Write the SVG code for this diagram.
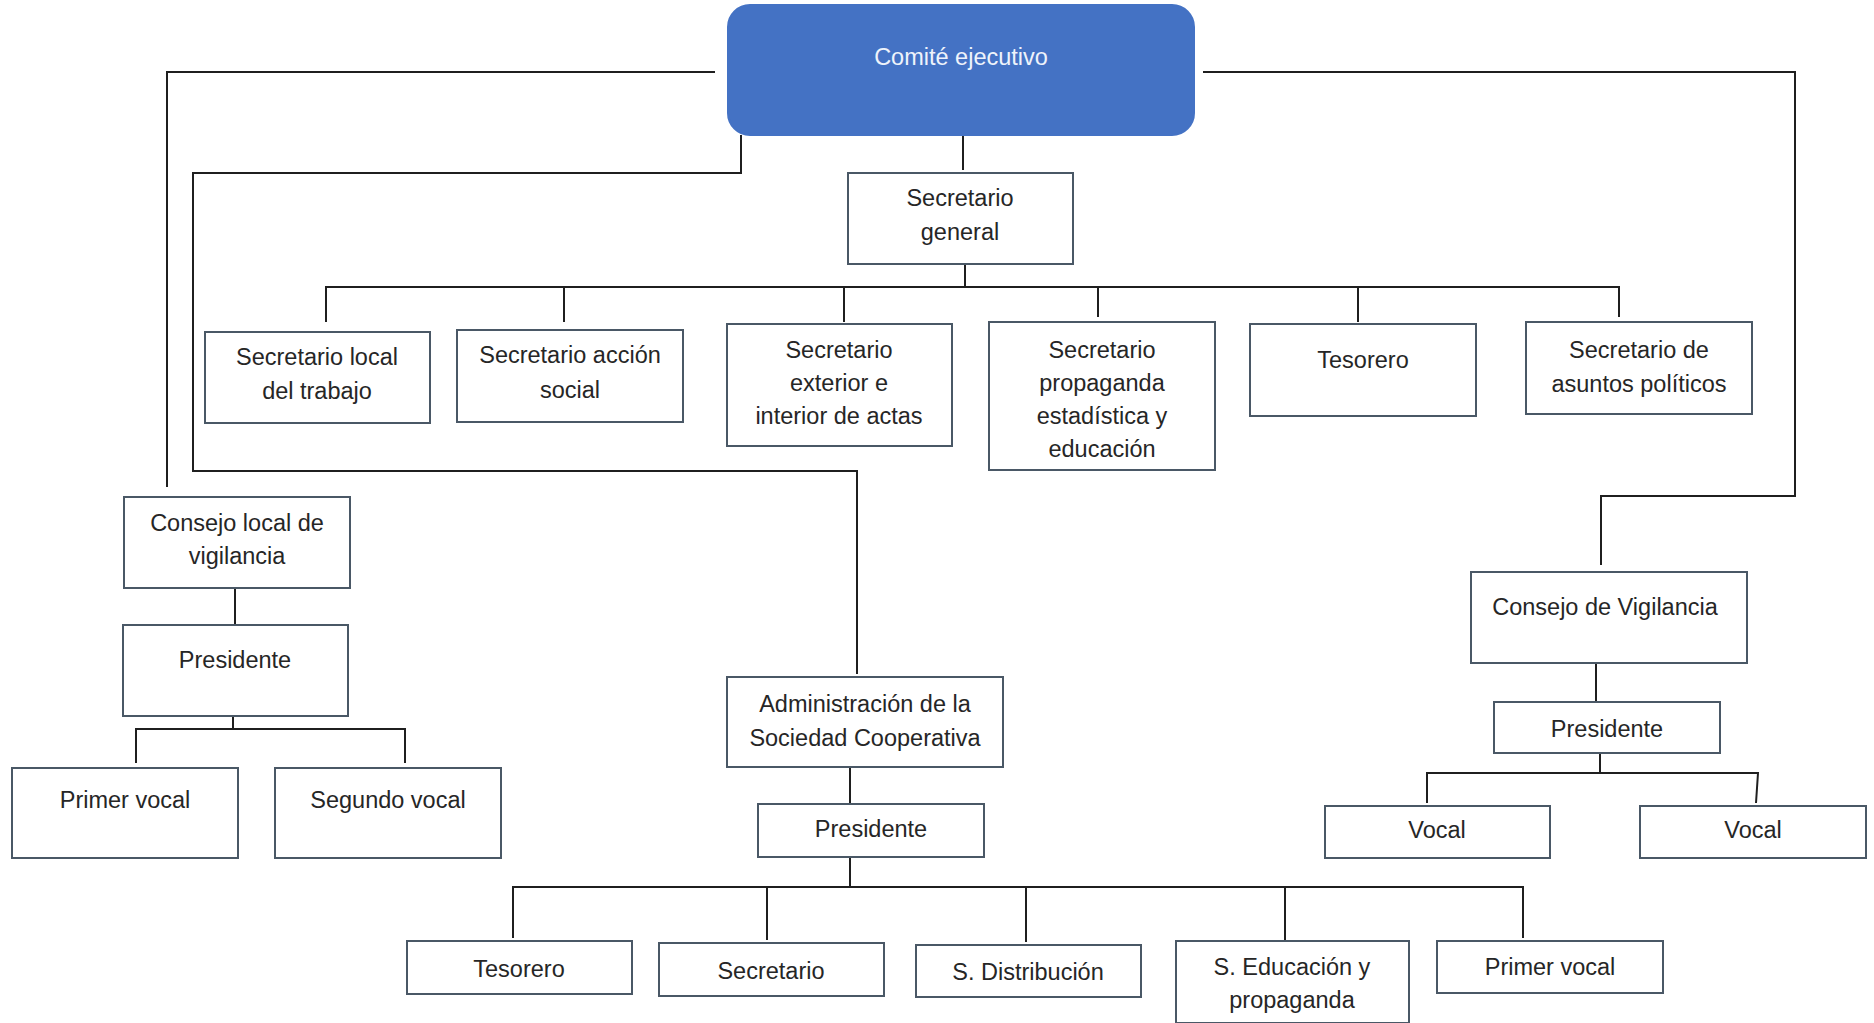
<svg xmlns="http://www.w3.org/2000/svg" width="1874" height="1023" viewBox="0 0 1874 1023">
  <style>
    .box { fill: #ffffff; stroke: #4a5866; stroke-width: 2; }
    .top { fill: #4472c4; stroke: #4472c4; stroke-width: 2; }
    .lbl { font-family: "Liberation Sans", Arial, sans-serif; font-size: 23.5px; fill: #262626; text-anchor: middle; }
    .lblw { font-family: "Liberation Sans", Arial, sans-serif; font-size: 23.5px; fill: #eef3fb; text-anchor: middle; }
    .wire { fill: none; stroke: #1f1f1f; stroke-width: 2; }
  </style>

  <rect width="1874" height="1023" fill="#ffffff"/>

  <!-- connectors -->
  <g id="connectors" class="wire">
    <!-- executive committee to general secretary -->
    <path d="M963 135 V170"/>
    <!-- general secretary to its six secretaries -->
    <path d="M965 264 V286"/>
    <path d="M326 322 V287 H1619 V317"/>
    <path d="M564 287 V322"/>
    <path d="M844 287 V322"/>
    <path d="M1098 287 V317"/>
    <path d="M1358 287 V322"/>
    <!-- outer left branch to local supervisory council -->
    <path d="M715 72 H167 V487"/>
    <!-- inner left branch to cooperative administration -->
    <path d="M741 135 V173 H193 V471 H857 V674"/>
    <!-- right branch to supervisory council -->
    <path d="M1203 72 H1795 V496 H1601 V565"/>
    <!-- local supervisory council chain -->
    <path d="M235 588 V625"/>
    <path d="M233 716 V729"/>
    <path d="M136 763 V729 H405 V763"/>
    <!-- cooperative administration chain -->
    <path d="M850 767 V804"/>
    <path d="M850 857 V887"/>
    <path d="M513 938 V887 H1523 V938"/>
    <path d="M767 887 V940"/>
    <path d="M1026 887 V942"/>
    <path d="M1285 887 V940"/>
    <!-- supervisory council chain -->
    <path d="M1596 663 V702"/>
    <path d="M1600 753 V773"/>
    <path d="M1427 803 V773 H1758 L1756 803"/>
  </g>

  <!-- nodes -->
  <g id="comite-ejecutivo">
    <rect class="top" x="728" y="5" width="466" height="130" rx="22"/>
    <text class="lblw" x="961" y="65">Comité ejecutivo</text>
  </g>

  <g id="secretario-general">
    <rect class="box" x="848" y="173" width="225" height="91"/>
    <text class="lbl" x="960" y="206">Secretario</text>
    <text class="lbl" x="960" y="240">general</text>
  </g>

  <g id="secretario-local-trabajo">
    <rect class="box" x="205" y="332" width="225" height="91"/>
    <text class="lbl" x="317" y="365">Secretario local</text>
    <text class="lbl" x="317" y="399">del trabajo</text>
  </g>

  <g id="secretario-accion-social">
    <rect class="box" x="457" y="330" width="226" height="92"/>
    <text class="lbl" x="570" y="363">Secretario acción</text>
    <text class="lbl" x="570" y="398">social</text>
  </g>

  <g id="secretario-exterior-interior">
    <rect class="box" x="727" y="324" width="225" height="122"/>
    <text class="lbl" x="839" y="358">Secretario</text>
    <text class="lbl" x="839" y="391">exterior e</text>
    <text class="lbl" x="839" y="424">interior de actas</text>
  </g>

  <g id="secretario-propaganda">
    <rect class="box" x="989" y="322" width="226" height="148"/>
    <text class="lbl" x="1102" y="358">Secretario</text>
    <text class="lbl" x="1102" y="391">propaganda</text>
    <text class="lbl" x="1102" y="424">estadística y</text>
    <text class="lbl" x="1102" y="457">educación</text>
  </g>

  <g id="tesorero">
    <rect class="box" x="1250" y="324" width="226" height="92"/>
    <text class="lbl" x="1363" y="368">Tesorero</text>
  </g>

  <g id="secretario-asuntos-politicos">
    <rect class="box" x="1526" y="322" width="226" height="92"/>
    <text class="lbl" x="1639" y="358">Secretario de</text>
    <text class="lbl" x="1639" y="392">asuntos políticos</text>
  </g>

  <g id="consejo-local-vigilancia">
    <rect class="box" x="124" y="497" width="226" height="91"/>
    <text class="lbl" x="237" y="531">Consejo local de</text>
    <text class="lbl" x="237" y="564">vigilancia</text>
  </g>

  <g id="presidente-local">
    <rect class="box" x="123" y="625" width="225" height="91"/>
    <text class="lbl" x="235" y="668">Presidente</text>
  </g>

  <g id="primer-vocal-local">
    <rect class="box" x="12" y="768" width="226" height="90"/>
    <text class="lbl" x="125" y="808">Primer vocal</text>
  </g>

  <g id="segundo-vocal-local">
    <rect class="box" x="275" y="768" width="226" height="90"/>
    <text class="lbl" x="388" y="808">Segundo vocal</text>
  </g>

  <g id="administracion-cooperativa">
    <rect class="box" x="727" y="677" width="276" height="90"/>
    <text class="lbl" x="865" y="712">Administración de la</text>
    <text class="lbl" x="865" y="746">Sociedad Cooperativa</text>
  </g>

  <g id="presidente-cooperativa">
    <rect class="box" x="758" y="804" width="226" height="53"/>
    <text class="lbl" x="871" y="837">Presidente</text>
  </g>

  <g id="tesorero-cooperativa">
    <rect class="box" x="407" y="941" width="225" height="53"/>
    <text class="lbl" x="519" y="977">Tesorero</text>
  </g>

  <g id="secretario-cooperativa">
    <rect class="box" x="659" y="943" width="225" height="53"/>
    <text class="lbl" x="771" y="979">Secretario</text>
  </g>

  <g id="s-distribucion">
    <rect class="box" x="916" y="945" width="225" height="52"/>
    <text class="lbl" x="1028" y="980">S. Distribución</text>
  </g>

  <g id="s-educacion-propaganda">
    <rect class="box" x="1176" y="941" width="233" height="82"/>
    <text class="lbl" x="1292" y="975">S. Educación y</text>
    <text class="lbl" x="1292" y="1008">propaganda</text>
  </g>

  <g id="primer-vocal-cooperativa">
    <rect class="box" x="1437" y="941" width="226" height="52"/>
    <text class="lbl" x="1550" y="975">Primer vocal</text>
  </g>

  <g id="consejo-vigilancia">
    <rect class="box" x="1471" y="572" width="276" height="91"/>
    <text class="lbl" x="1605" y="615">Consejo de Vigilancia</text>
  </g>

  <g id="presidente-vigilancia">
    <rect class="box" x="1494" y="702" width="226" height="51"/>
    <text class="lbl" x="1607" y="737">Presidente</text>
  </g>

  <g id="vocal-1">
    <rect class="box" x="1325" y="806" width="225" height="52"/>
    <text class="lbl" x="1437" y="838">Vocal</text>
  </g>

  <g id="vocal-2">
    <rect class="box" x="1640" y="806" width="226" height="52"/>
    <text class="lbl" x="1753" y="838">Vocal</text>
  </g>
</svg>
